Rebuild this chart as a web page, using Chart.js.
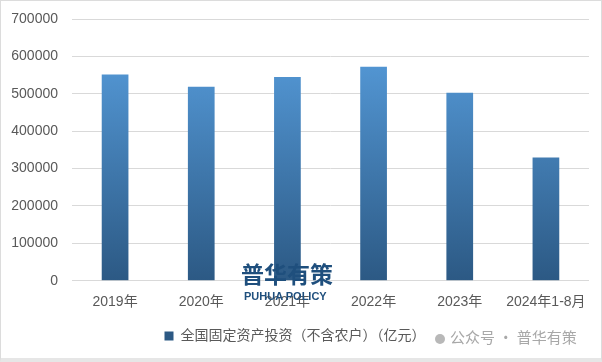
<!DOCTYPE html>
<html lang="zh-CN">
<head>
<meta charset="UTF-8">
<title>全国固定资产投资</title>
<script src="https://cdn.jsdelivr.net/npm/chart.js"></script>
<style>
  html, body { margin: 0; padding: 0; background: #fff; }
  .wrap { position: relative; width: 602px; height: 362px; box-sizing: border-box; border: 1px solid #dcdcdc; border-bottom: 4px solid #e6e6e6; }
  canvas { position: absolute; left: 0; top: 0; }
  .logo { position: absolute; left: 240px; top: 259px; font: bold 23px "Noto Sans CJK SC", sans-serif; color: #1f4f7d; line-height: 26px; }
  .logo-en { position: absolute; left: 243px; top: 289px; font: bold 11px "Liberation Sans", Arial, sans-serif; color: #1f4f7d; line-height: 12px; }
  .wx { position: absolute; left: 434px; top: 326px; font: 15px "Noto Sans CJK SC", sans-serif; color: #a8a8a8; line-height: 20px; }
  .wx .dot { display: inline-block; width: 10px; height: 10px; border-radius: 50%; background: #b8b8b8; margin-right: 5px; vertical-align: -1px; }
</style>
</head>
<body>
<div class="wrap">
  <canvas id="grafico" width="600" height="357"></canvas>
  <div class="logo">普华有策</div>
  <div class="logo-en">PUHUA POLICY</div>
  <div class="wx"><span class="dot"></span>公众号 · 普华有策</div>
</div>

<script>
  // dados do grafico
  const categorias = ['2019年', '2020年', '2021年', '2022年', '2023年', '2024年1-8月'];
  const investimento = [551478, 518907, 544547, 572138, 503036, 329385];
  const serieNome = '全国固定资产投资（不含农户）（亿元）';
  const ticksY = [0, 100000, 200000, 300000, 400000, 500000, 600000, 700000];

  const fonte = '"Liberation Sans", Arial, "Noto Sans CJK SC", sans-serif';

  function gradiente(context) {
    const chart = context.chart;
    const area = chart.chartArea;
    if (!area) return '#4a86c5';
    const g = chart.ctx.createLinearGradient(0, area.top, 0, area.bottom);
    g.addColorStop(0, '#5aa2e3');
    g.addColorStop(1, '#2c5984');
    return g;
  }

  const config = {
    type: 'bar',
    data: {
      labels: categorias,
      datasets: [{
        label: serieNome,
        data: investimento,
        backgroundColor: gradiente,
        borderWidth: 0,
        barPercentage: 0.31,
        categoryPercentage: 1
      }]
    },
    options: {
      responsive: false,
      animation: false,
      layout: { padding: { top: 18, right: 12, left: 0, bottom: 5 } },
      scales: {
        x: {
          grid: { display: false },
          border: { display: false },
          ticks: { color: '#595959', font: { family: fonte, size: 14 }, padding: 5, maxRotation: 0 }
        },
        y: {
          min: 0,
          max: 700000,
          afterBuildTicks: function (scale) {
            scale.ticks = ticksY.map(v => ({ value: v }));
          },
          afterFit: function (scale) {
            scale.width = 71;
            scale.paddingTop = 0;
            scale.paddingBottom = 0;
          },
          grid: { color: '#d9d9d9', lineWidth: 1, drawTicks: false },
          border: { display: false },
          ticks: {
            color: '#595959',
            font: { family: fonte, size: 14 },
            padding: 14,
            callback: function (v) { return String(v); }
          }
        }
      },
      plugins: {
        legend: {
          position: 'bottom',
          labels: {
            color: '#595959',
            font: { family: fonte, size: 14 },
            boxWidth: 9,
            boxHeight: 9,
            padding: 13.5
          }
        },
        tooltip: { enabled: false }
      }
    }
  };

  new Chart(document.getElementById('grafico'), config);
</script>
</body>
</html>
